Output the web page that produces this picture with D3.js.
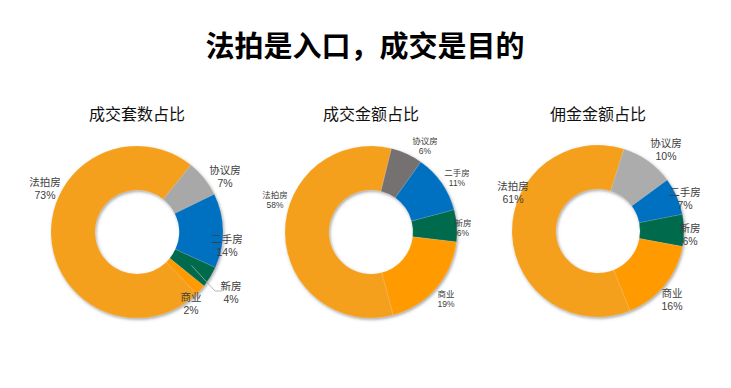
<html>
<head>
<meta charset="utf-8">
<title>法拍是入口，成交是目的</title>
<script src="https://d3js.org/d3.v7.min.js"></script>
<style>
  body { margin: 0; background: #fff; }
  text { font-family: "Noto Sans CJK SC", "Microsoft YaHei", sans-serif; }
  text.pct { font-family: "Liberation Sans", Arial, sans-serif; }
</style>
</head>
<body>
<svg width="731" height="388"></svg>
<script>
// data
var categories = ["法拍房", "协议房", "二手房", "新房", "商业"];
var countShare = [73, 7, 14, 4, 2];        // 成交套数占比
var amountShare = [58, 6, 11, 6, 19];      // 成交金额占比
var commissionShare = [61, 10, 7, 6, 16];  // 佣金金额占比
var chartTitles = ["成交套数占比", "成交金额占比", "佣金金额占比"];
var mainTitle = "法拍是入口，成交是目的";

// layout / style
var svg = d3.select("svg");
var charts = [
  {values: countShare, cx: 137, cy: 232, rotate: 136, grey: "#a8a8a8", font: 10.5, lh: 13.5,
   labels: [[-92,-44],[88,-56],[90,13],[94,60],[54,71]], leader: 3},
  {values: amountShare, cx: 371, cy: 232, rotate: 165, grey: "#767171", font: 8.5, lh: 11,
   labels: [[-96,-33],[54,-87],[86,-55],[92,-5],[75,66]]},
  {values: commissionShare, cx: 598, cy: 231, rotate: 158, grey: "#acacac", font: 10.5, lh: 13.5,
   labels: [[-85,-39],[68,-82],[87,-33],[92,3],[74,68]]}
];
var outerR = 86, innerR = 42;

var defs = svg.append("defs");
defs.append("filter").attr("id", "shadow")
    .attr("x", "-20%").attr("y", "-20%").attr("width", "140%").attr("height", "140%")
  .append("feDropShadow")
    .attr("dx", 1).attr("dy", 1.5).attr("stdDeviation", 1.5)
    .attr("flood-color", "#555").attr("flood-opacity", 0.55);

svg.append("text")
    .text(mainTitle)
    .attr("x", 365).attr("y", 44)
    .attr("text-anchor", "middle").attr("dominant-baseline", "central")
    .style("font-size", "29px").style("font-weight", "700").attr("fill", "#000");

var arc = d3.arc().innerRadius(innerR).outerRadius(outerR);

charts.forEach(function(c, ci) {
  var color = d3.scaleOrdinal()
      .domain(categories)
      .range(["#f5a01a", c.grey, "#0070c0", "#006a4e", "#ff9a00"]);
  var start = c.rotate * Math.PI / 180;
  var pie = d3.pie().sort(null).startAngle(start).endAngle(start + 2 * Math.PI);
  var arcs = pie(c.values).map(function(d, i) { d.name = categories[i]; return d; });

  var g = svg.append("g").attr("transform", `translate(${c.cx},${c.cy})`);

  svg.append("text")
      .text(chartTitles[ci])
      .attr("x", c.cx).attr("y", 113)
      .attr("text-anchor", "middle").attr("dominant-baseline", "central")
      .style("font-size", "16px").attr("fill", "#111");

  g.append("g")
      .attr("filter", "url(#shadow)")
    .selectAll("path")
    .data(arcs)
    .enter()
    .append("path")
      .attr("d", arc)
      .attr("fill", d => color(d.name))
      .attr("stroke", "#fff")
      .attr("stroke-opacity", 0.5)
      .attr("stroke-width", 0.25);

  if (c.leader != null) {
    var d = arcs[c.leader];
    var p = d3.arc().innerRadius(64).outerRadius(64).centroid(d);
    var lp = c.labels[c.leader];
    g.append("polyline")
        .attr("points", [p, [lp[0] - 16, lp[1] - 1], [lp[0] - 9, lp[1] - 1]].map(q => q.join(",")).join(" "))
        .attr("fill", "none").attr("stroke", "#a6a6a6").attr("stroke-width", 0.8);
  }

  // two separate lines per label: name and percentage
  [[d => d.name, -1, "name"], [d => d.value + "%", 1, "pct"]].forEach(function(line) {
    g.selectAll(null)
        .data(arcs)
        .enter()
        .append("text")
        .attr("class", line[2])
        .attr("text-anchor", "middle")
        .attr("dominant-baseline", "central")
        .style("font-size", c.font + "px")
        .attr("fill", "#404040")
        .attr("x", (d, i) => c.labels[i][0])
        .attr("y", (d, i) => c.labels[i][1] + line[1] * c.lh / 2)
        .text(line[0]);
  });
});
</script>
</body>
</html>
